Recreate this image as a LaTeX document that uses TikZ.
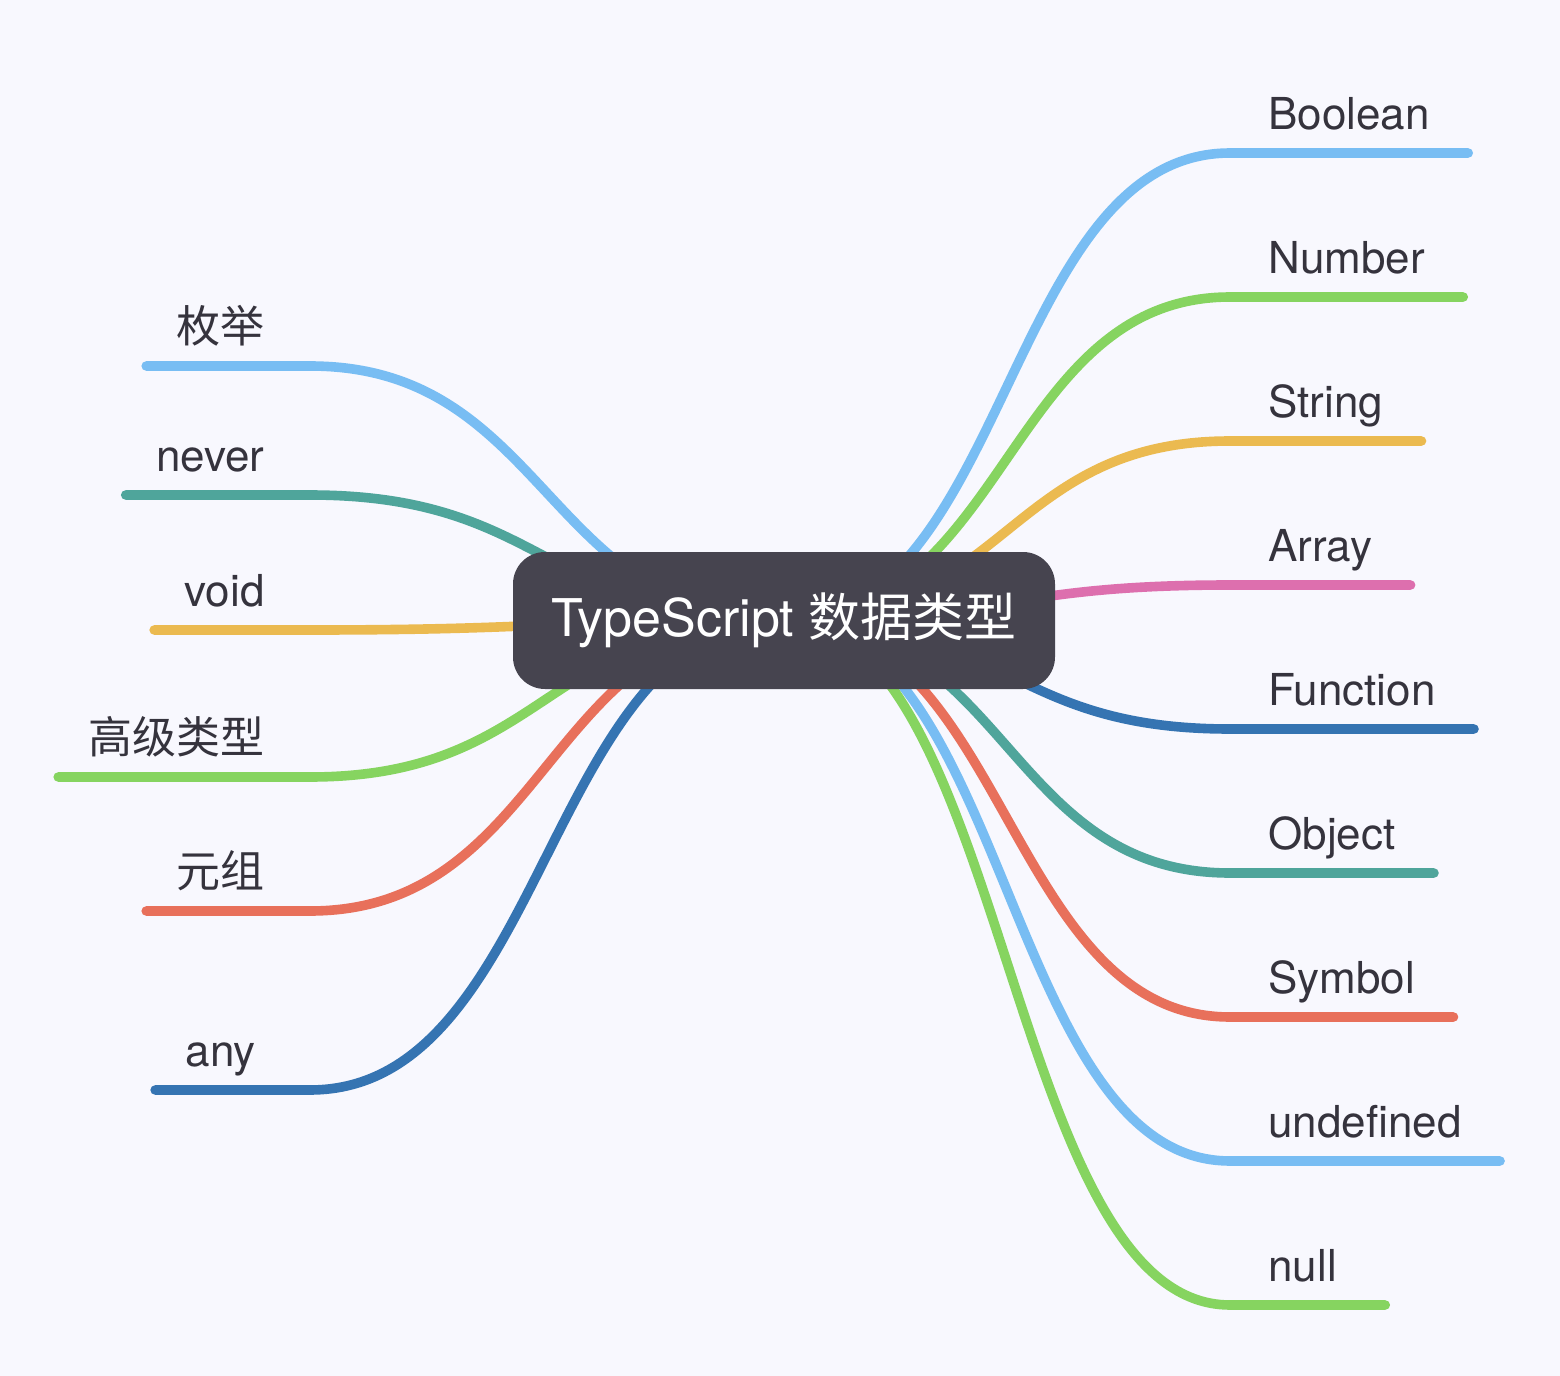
\documentclass[tikz,border=0pt]{standalone}
\usepackage{fontspec}
\setmainfont{TeX Gyre Heros}
\newfontfamily\cjk{Noto Sans CJK SC}
\usepackage{tikz}
\definecolor{paper}{RGB}{248,248,254}
\definecolor{topicgray}{RGB}{70,68,79}
\definecolor{inkgray}{RGB}{53,51,61}
\definecolor{mmblue}{RGB}{120,189,243}
\definecolor{mmgreen}{RGB}{134,212,96}
\definecolor{mmyellow}{RGB}{235,186,80}
\definecolor{mmpink}{RGB}{221,111,174}
\definecolor{mmnavy}{RGB}{53,116,178}
\definecolor{mmteal}{RGB}{79,165,155}
\definecolor{mmred}{RGB}{232,112,91}

\begin{document}
\begin{tikzpicture}[x=0.5pt,y=-0.5pt,
  branch/.style={line width=4.8pt,line cap=round},
  rlabel/.style={anchor=south west,inner xsep=19pt,inner ysep=11.5pt,text depth=0pt,text=inkgray,font=\fontsize{22}{26}\selectfont},
  llabel/.style={rlabel,anchor=south east,inner xsep=15pt},
  topic/.style={fill=topicgray,text=white,rounded corners=16pt,minimum width=271pt,minimum height=68.5pt,inner sep=0pt,font=\fontsize{26}{31}\selectfont}]
\fill[paper] (0,0) rectangle (1560,1376);
\coordinate (hub) at (784,620);

% right side
\node[rlabel] (bool) at (1230,153) {Boolean};
\node[rlabel] (num) at (1230,297) {Number};
\node[rlabel] (str) at (1230,441) {String};
\node[rlabel] (arr) at (1230,585) {Array};
\node[rlabel] (func) at (1230,729) {Function};
\node[rlabel] (obj) at (1230,873) {Object};
\node[rlabel] (sym) at (1230,1017) {Symbol};
\node[rlabel] (undef) at (1230,1161) {undefined};
\node[rlabel] (nul) at (1230,1305) {null};

% left side
\node[llabel] (enum) at (295,366) {\cjk 枚举};
\node[llabel] (never) at (295,495) {never};
\node[llabel] (void) at (295,630) {void};
\node[llabel] (adv) at (295,777) {\cjk 高级类型};
\node[llabel] (tuple) at (295,911) {\cjk 元组};
\node[llabel] (any) at (286,1090) {any};

% links
\draw[branch,mmblue] (hub) .. controls +(223,0) and +(-223,0) .. (bool.south west) -- (bool.south east);
\draw[branch,mmgreen] (hub) .. controls +(223,0) and +(-223,0) .. (num.south west) -- (num.south east);
\draw[branch,mmyellow] (hub) .. controls +(223,0) and +(-223,0) .. (str.south west) -- (str.south east);
\draw[branch,mmpink] (hub) .. controls +(223,0) and +(-223,0) .. (arr.south west) -- (arr.south east);
\draw[branch,mmnavy] (hub) .. controls +(223,0) and +(-223,0) .. (func.south west) -- (func.south east);
\draw[branch,mmteal] (hub) .. controls +(223,0) and +(-223,0) .. (obj.south west) -- (obj.south east);
\draw[branch,mmred] (hub) .. controls +(223,0) and +(-223,0) .. (sym.south west) -- (sym.south east);
\draw[branch,mmblue] (hub) .. controls +(223,0) and +(-223,0) .. (undef.south west) -- (undef.south east);
\draw[branch,mmgreen] (hub) .. controls +(223,0) and +(-223,0) .. (nul.south west) -- ([xshift=5pt]nul.south east);

\draw[branch,mmblue] (hub) .. controls +(-237,0) and +(237,0) .. ([xshift=7.5pt]enum.south east) -- (enum.south west);
\draw[branch,mmteal] (hub) .. controls +(-237,0) and +(237,0) .. ([xshift=7.5pt]never.south east) -- (never.south west);
\draw[branch,mmyellow] (hub) .. controls +(-237,0) and +(237,0) .. ([xshift=7.5pt]void.south east) -- (void.south west);
\draw[branch,mmgreen] (hub) .. controls +(-237,0) and +(237,0) .. ([xshift=7.5pt]adv.south east) -- (adv.south west);
\draw[branch,mmred] (hub) .. controls +(-237,0) and +(237,0) .. ([xshift=7.5pt]tuple.south east) -- (tuple.south west);
\draw[branch,mmnavy] (hub) .. controls +(-237,0) and +(237,0) .. ([xshift=12pt]any.south east) -- (any.south west);

\node[topic] (root) at (784,620.5) {\raisebox{-1pt}{TypeScript {\cjk 数据类型}}};
\end{tikzpicture}
\end{document}
